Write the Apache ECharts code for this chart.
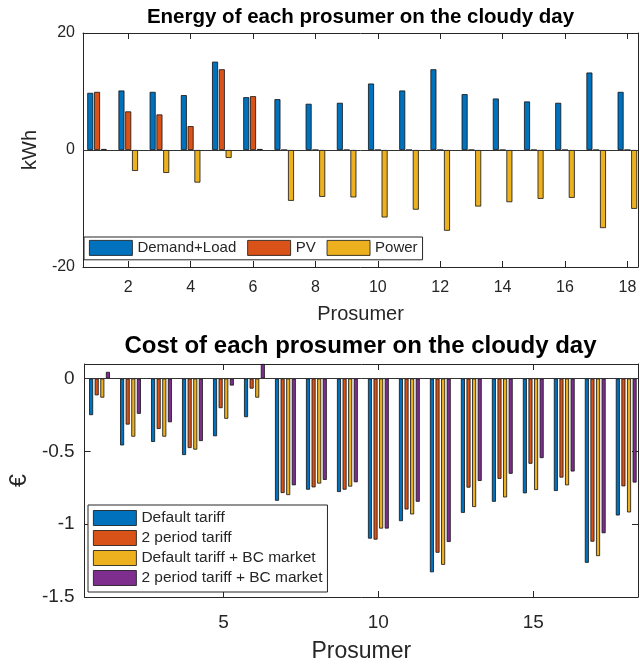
<!DOCTYPE html>
<html><head><meta charset="utf-8">
<script src="https://cdn.jsdelivr.net/npm/echarts@6/dist/echarts.min.js"></script>
<style>html,body{margin:0;padding:0;background:#fff}#c{width:640px;height:664px}</style>
</head><body><div id="c"></div>
<script>
// ---- data ----
const prosumers = [1,2,3,4,5,6,7,8,9,10,11,12,13,14,15,16,17,18];
const demandLoad = [9.77,10.17,9.94,9.38,15.1,9.03,8.69,7.9,8.07,11.36,10.17,13.8,9.55,8.8,8.3,8.07,13.24,9.94];
const pv = [9.94,6.6,6.08,4.09,13.8,9.2,0,0,0,0,0,0,0,0,0,0,0,0];
const power = [0.17,-3.58,-3.92,-5.57,-1.36,0.17,-8.69,-8.01,-8.1,-11.53,-10.2,-13.8,-9.66,-8.92,-8.35,-8.18,-13.35,-10.06];

const costDefault = [-0.251,-0.459,-0.435,-0.525,-0.396,-0.265,-0.839,-0.763,-0.779,-1.099,-0.979,-1.33,-0.922,-0.846,-0.788,-0.772,-1.265,-0.94];
const cost2Period = [-0.115,-0.316,-0.346,-0.477,-0.203,-0.069,-0.786,-0.747,-0.763,-1.106,-0.899,-1.196,-0.749,-0.689,-0.585,-0.68,-1.12,-0.74];
const costDefaultBC = [-0.131,-0.399,-0.399,-0.488,-0.276,-0.131,-0.8,-0.721,-0.742,-1.03,-0.933,-1.279,-0.882,-0.816,-0.765,-0.733,-1.219,-0.919];
const cost2PeriodBC = [0.046,-0.242,-0.3,-0.429,-0.048,0.1,-0.733,-0.696,-0.712,-1.03,-0.846,-1.122,-0.703,-0.654,-0.546,-0.638,-1.062,-0.714];

const energyXTicks = [2,4,6,8,10,12,14,16,18];
const energyYTicks = [-20,0,20];
const costXTicks = [5,10,15];
const costYTicks = [-1.5,-1,-0.5,0];

const energyNames = ['Demand+Load','PV','Power'];
const costNames = ['Default tariff','2 period tariff','Default tariff + BC market','2 period tariff + BC market'];
const colors = ['#0072BD','#D95319','#EDB120','#7E2F8E'];

// ---- styles ----
const FONT = 'Liberation Sans, Arial, Helvetica, sans-serif';
const AX = '#262626';

function pairs(vals){ return prosumers.map((p,i)=>[p, vals[i]]); }

function xAxisPair(grid, min, max, ticks, fs, nameFs, margin, nameGap){
  return [{
    gridIndex: grid, type:'value', position:'bottom', min:min, max:max,
    axisLine:{show:true, onZero:false, lineStyle:{color:AX, width:1}},
    axisTick:{show:true, inside:true, length:6, customValues:ticks, lineStyle:{color:AX}},
    axisLabel:{show:true, customValues:ticks, fontSize:fs, color:AX, fontFamily:FONT, margin:margin},
    splitLine:{show:false},
    name:'Prosumer', nameLocation:'middle', nameGap:nameGap,
    nameTextStyle:{fontSize:nameFs, color:AX, fontFamily:FONT}
  },{
    gridIndex: grid, type:'value', position:'top', min:min, max:max,
    axisLine:{show:true, onZero:false, lineStyle:{color:AX, width:1}},
    axisTick:{show:true, inside:true, length:6, customValues:ticks, lineStyle:{color:AX}},
    axisLabel:{show:false}, splitLine:{show:false}
  }];
}
function yAxisPair(grid, min, max, ticks, fs, name, nameFs, margin, nameGap){
  return [{
    gridIndex: grid, type:'value', position:'left', min:min, max:max,
    axisLine:{show:true, onZero:false, lineStyle:{color:AX, width:1}},
    axisTick:{show:true, inside:true, length:6, customValues:ticks, lineStyle:{color:AX}},
    axisLabel:{show:true, customValues:ticks, fontSize:fs, color:AX, fontFamily:FONT, margin:margin},
    splitLine:{show:false},
    name:name, nameLocation:'middle', nameRotate:90, nameGap:nameGap,
    nameTextStyle:{fontSize:nameFs, color:AX, fontFamily:FONT}
  },{
    gridIndex: grid, type:'value', position:'right', min:min, max:max,
    axisLine:{show:true, onZero:false, lineStyle:{color:AX, width:1}},
    axisTick:{show:true, inside:true, length:6, customValues:ticks, lineStyle:{color:AX}},
    axisLabel:{show:false}, splitLine:{show:false}
  }];
}

function barSeries(name, vals, colorIdx, xi, yi, bw, gap, withBase){
  const s = {
    name:name, type:'bar', xAxisIndex:xi, yAxisIndex:yi,
    data: pairs(vals), barWidth:bw, barGap:gap,
    itemStyle:{color:colors[colorIdx], borderColor:'#111', borderWidth:0.8},
    emphasis:{disabled:true}
  };
  if (withBase) {
    s.markLine = {silent:true, symbol:['none','none'], label:{show:false},
      lineStyle:{color:'#333', width:1, type:'solid'}, data:[{yAxis:0}], animation:false};
  }
  return s;
}

const legendItemStyle = {borderColor:'#111', borderWidth:0.8};

const option = {
  animation:false,
  backgroundColor:'#fff',
  textStyle:{fontFamily:FONT},
  title:[
    {text:'Energy of each prosumer on the cloudy day', left:360.5, top:7, textAlign:'center', padding:0,
     textStyle:{fontSize:20.5, fontWeight:'bold', color:'#000', fontFamily:FONT}},
    {text:'Cost of each prosumer on the cloudy day', left:360.5, top:334, textAlign:'center', padding:0,
     textStyle:{fontSize:24, fontWeight:'bold', color:'#000', fontFamily:FONT}}
  ],
  grid:[
    {left:83, top:33, width:555, height:234},
    {left:83, top:364, width:555, height:233}
  ],
  xAxis: [].concat(
    xAxisPair(0, 0.55, 18.34, energyXTicks, 16, 20, 13, 37),
    xAxisPair(1, 0.52, 18.38, costXTicks, 19, 23, 16, 43)
  ),
  yAxis: [].concat(
    yAxisPair(0, -20, 20, energyYTicks, 16, 'kWh', 20, 8, 40),
    yAxisPair(1, -1.5, 0.1, costYTicks, 19, '€', 23, 10, 50)
  ),
  legend:[
    {data:energyNames, orient:'horizontal', left:84, top:237, itemWidth:43, itemHeight:15, itemGap:11,
     padding:[3,5,4,5], borderColor:AX, borderWidth:1, backgroundColor:'#fff', icon:'rect',
     itemStyle:legendItemStyle,
     textStyle:{fontSize:15, color:AX, fontFamily:FONT}, selectedMode:false},
    {data:costNames, orient:'vertical', left:88, top:505, itemWidth:43, itemHeight:15, itemGap:4,
     padding:[5,5,6,5], borderColor:AX, borderWidth:1, backgroundColor:'#fff', icon:'rect',
     itemStyle:legendItemStyle,
     textStyle:{fontSize:15.5, lineHeight:15, color:AX, fontFamily:FONT}, selectedMode:false}
  ],
  series:[
    barSeries(energyNames[0], demandLoad, 0, 0, 0, 6, '13%', true),
    barSeries(energyNames[1], pv, 1, 0, 0, 6, '13%', false),
    barSeries(energyNames[2], power, 2, 0, 0, 6, '13%', false),
    barSeries(costNames[0], costDefault, 0, 2, 2, 4, '40%', true),
    barSeries(costNames[1], cost2Period, 1, 2, 2, 4, '40%', false),
    barSeries(costNames[2], costDefaultBC, 2, 2, 2, 4, '40%', false),
    barSeries(costNames[3], cost2PeriodBC, 3, 2, 2, 4, '40%', false)
  ]
};
const chart = echarts.init(document.getElementById('c'), null, {renderer:'canvas'});
chart.setOption(option);
</script>
</body></html>
